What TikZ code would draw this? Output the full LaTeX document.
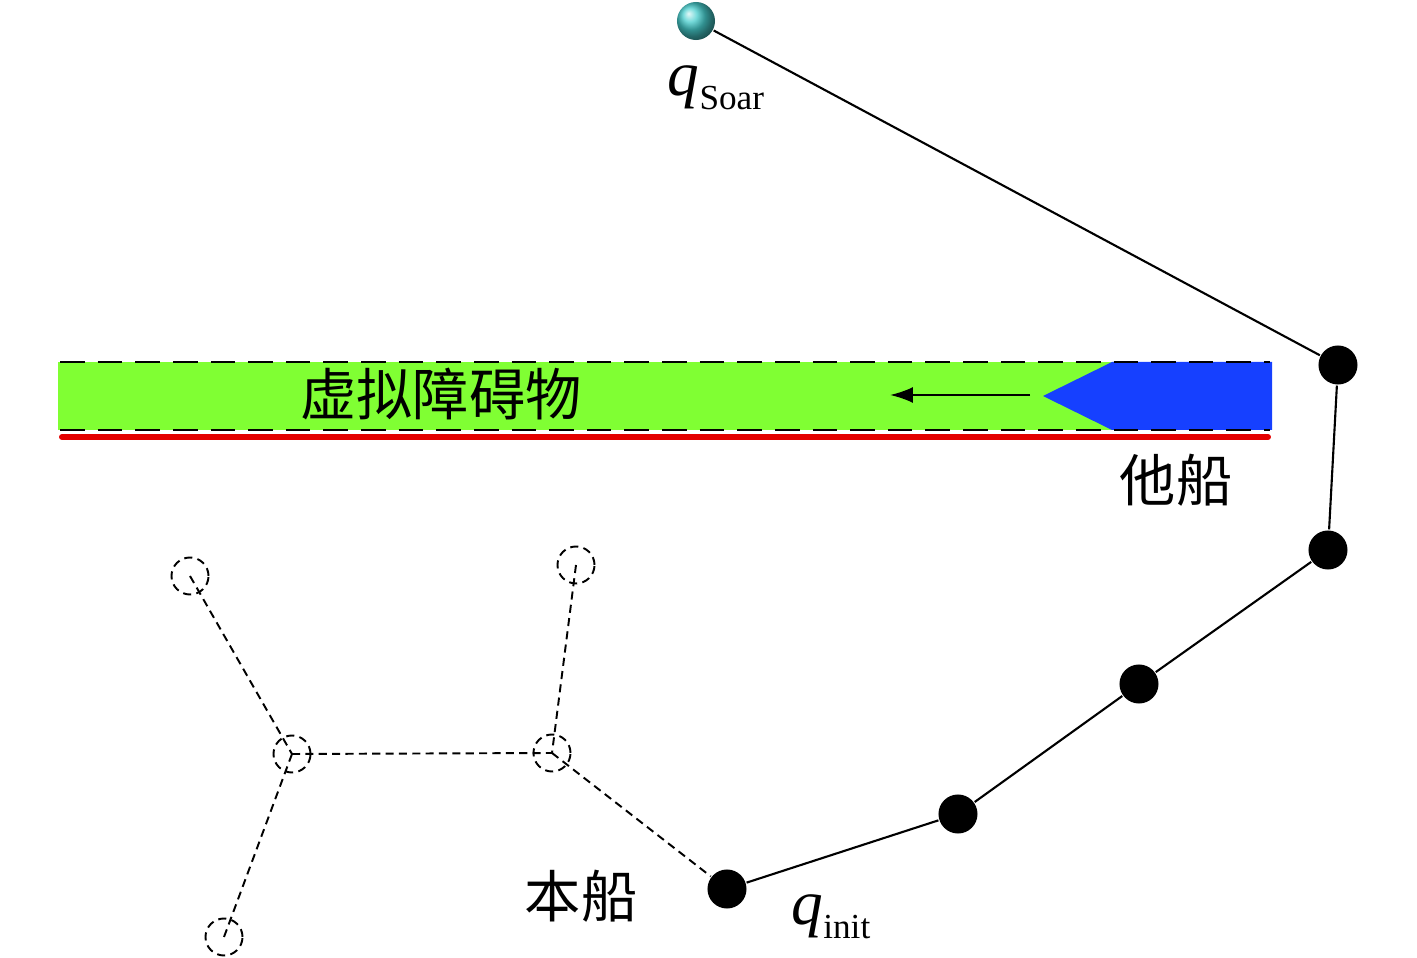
\documentclass[tikz,border=0pt]{standalone}
\usepackage{fontspec}
\setmainfont{Liberation Serif}
\newfontfamily\cjk{Noto Sans CJK SC}
\usepackage{xcolor}
\usetikzlibrary{arrows.meta,shadings}
\definecolor{obstgreen}{RGB}{128,255,51}
\definecolor{shipblue}{RGB}{22,64,255}
\definecolor{bankred}{RGB}{228,0,0}
\definecolor{goalteal}{RGB}{70,205,205}
\tikzset{every picture/.style={line width=.6pt}}

\begin{document}
\begin{tikzpicture}[x=.01cm,y=-.01cm,
 every node/.style={font=\fontsize{16}{19}\selectfont},
 pathdot/.style={circle,fill=black,minimum size=.39cm,inner sep=0pt},
 ghostdot/.style={circle,draw,line width=.55pt,dash pattern=on 2.3pt off 1.5pt,minimum size=.37cm,inner sep=0pt},
 goaldot/.style={circle,shading=ball,ball color=goalteal,minimum size=.38cm,inner sep=0pt},
 ghostline/.style={line width=.55pt,dash pattern=on 2.3pt off 1.5pt}]
 \useasboundingbox (0,0) rectangle (1417,958);
 % virtual obstacle band and the other ship
 \fill[obstgreen] (58,362) rectangle (1272,430);
 \fill[shipblue] (1043,396)--(1112,362)--(1272,362)--(1272,430)--(1112,430)--cycle;
 \draw[line width=.8pt,dash pattern=on 7pt off 3.7pt] (60,362)--(1270,362);
 \draw[line width=.8pt,dash pattern=on 7pt off 3.7pt] (60,430)--(1270,430);
 \draw[bankred,line width=1.7pt,line cap=round] (62,437)--(1268,437);
 \coordinate (movefrom) at (1030,395);
 \coordinate (moveto) at (890,395);
 \draw[-{Latex[length=6.5pt,width=4.5pt]},line width=.6pt] (movefrom)--(moveto);
 \node (obst) at (441,394) {\cjk 虚拟障碍物};
 \node (other) at (1176,480) {\cjk 他船};
 % planned path
 \node[goaldot] (qsoar) at (696,21) {};
 \node[pathdot] (p1) at (1338,365) {};
 \node[pathdot] (p2) at (1328,550) {};
 \node[pathdot] (p3) at (1139,684) {};
 \node[pathdot] (p4) at (958,814) {};
 \node[pathdot] (qinit) at (727,889) {};
 \draw (qsoar)--(p1)--(p2)--(p3)--(p4)--(qinit);
 \node (soarlbl) at (716,88) {{\fontsize{18}{20}\selectfont\itshape q}\raisebox{-.55ex}{\fontsize{10}{12}\selectfont Soar}};
 \node (initlbl) at (831,917) {{\fontsize{18}{20}\selectfont\itshape q}\raisebox{-.55ex}{\fontsize{10}{12}\selectfont init}};
 \node (own) at (581,896) {\cjk 本船};
 % discarded branches
 \node[ghostdot] (g1) at (190,576) {};
 \node[ghostdot] (g2) at (292,754) {};
 \node[ghostdot] (g3) at (552,753) {};
 \node[ghostdot] (g4) at (576,565) {};
 \node[ghostdot] (g5) at (224,937) {};
 \draw[ghostline] (g1.center)--(g2.center);
 \draw[ghostline] (g2.center)--(g3.center);
 \draw[ghostline] (g4.center)--(g3.center);
 \draw[ghostline] (g2.center)--(g5.center);
 \draw[ghostline] (g3.center)--(qinit);
\end{tikzpicture}
\end{document}
